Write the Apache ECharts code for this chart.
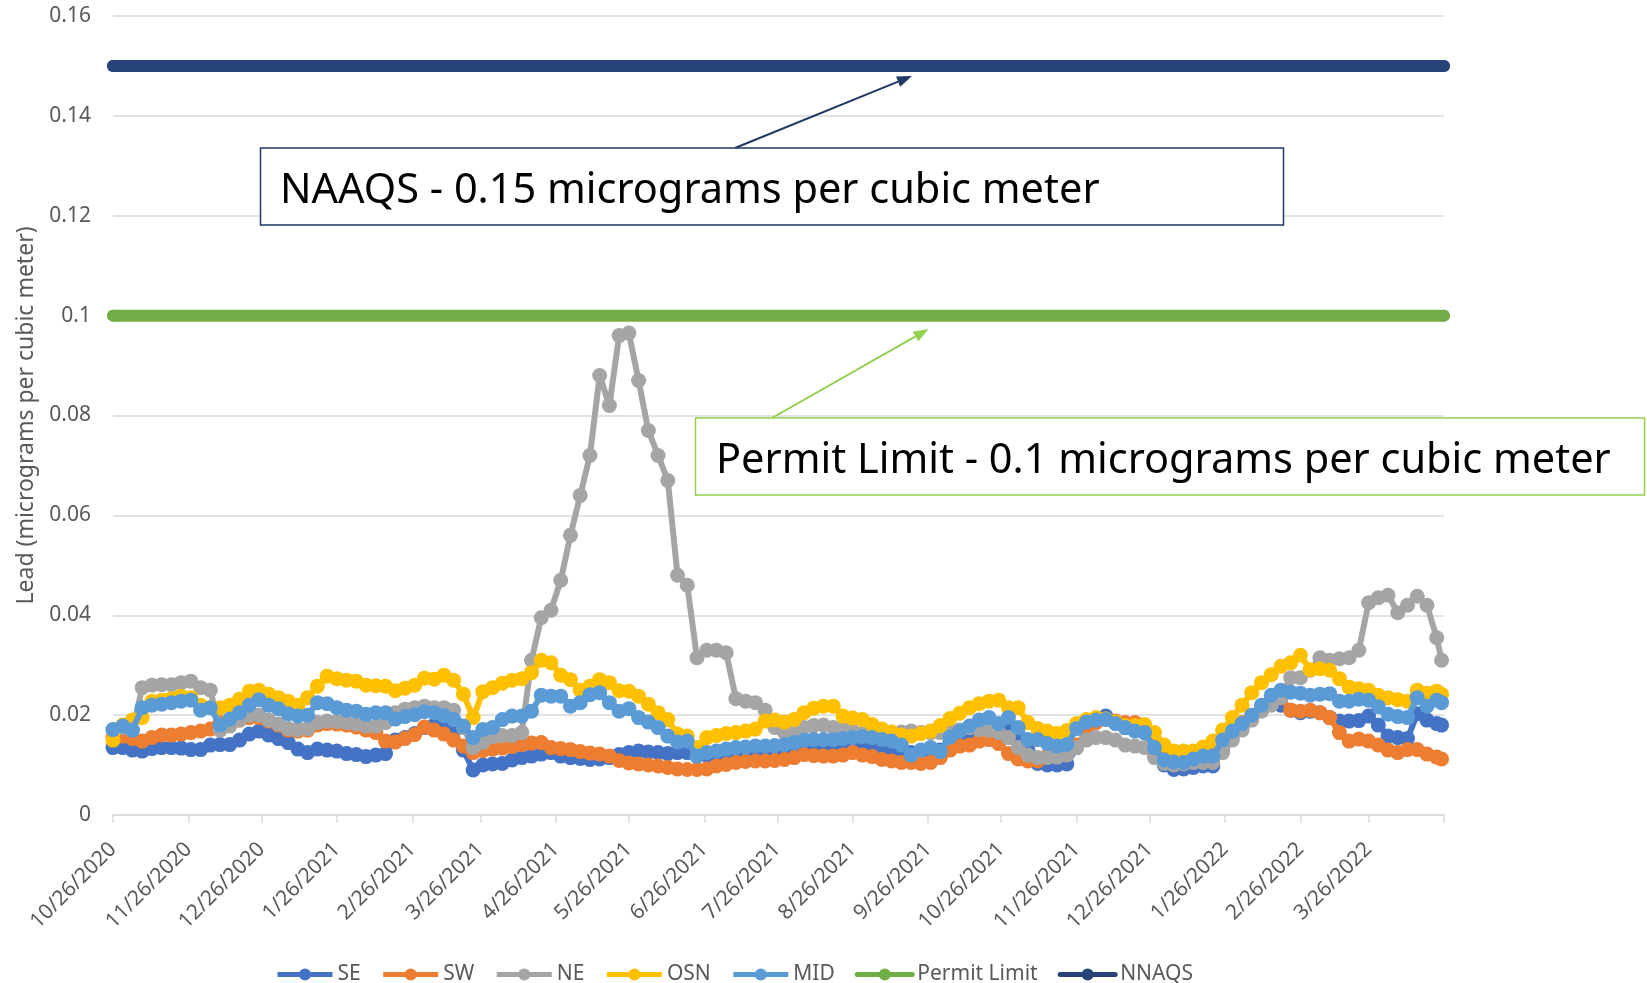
<!DOCTYPE html>
<html><head><meta charset="utf-8">
<script src="https://cdn.jsdelivr.net/npm/echarts@6/dist/echarts.min.js"></script>
<style>html,body{margin:0;padding:0;background:#fff}#c{width:1647px;height:983px}</style>
</head><body><div id="c"></div>
<script>
// Sample dates (every 4 days)
const dates = [
'2020-10-26','2020-10-30','2020-11-03','2020-11-07','2020-11-11','2020-11-15','2020-11-19','2020-11-23','2020-11-27','2020-12-01','2020-12-05','2020-12-09','2020-12-13','2020-12-17','2020-12-21','2020-12-25','2020-12-29','2021-01-02','2021-01-06','2021-01-10','2021-01-14','2021-01-18','2021-01-22','2021-01-26','2021-01-30','2021-02-03','2021-02-07',
'2021-02-11','2021-02-15','2021-02-19','2021-02-23','2021-02-27','2021-03-03','2021-03-07','2021-03-11','2021-03-15','2021-03-19','2021-03-23','2021-03-27','2021-03-31','2021-04-04','2021-04-08','2021-04-12','2021-04-16','2021-04-20','2021-04-24','2021-04-28','2021-05-02','2021-05-06','2021-05-10','2021-05-14','2021-05-18','2021-05-22','2021-05-26',
'2021-05-30','2021-06-03','2021-06-07','2021-06-11','2021-06-15','2021-06-19','2021-06-23','2021-06-27','2021-07-01','2021-07-05','2021-07-09','2021-07-13','2021-07-17','2021-07-21','2021-07-25','2021-07-29','2021-08-02','2021-08-06','2021-08-10','2021-08-14','2021-08-18','2021-08-22','2021-08-26','2021-08-30','2021-09-03','2021-09-07','2021-09-11',
'2021-09-15','2021-09-19','2021-09-23','2021-09-27','2021-10-01','2021-10-05','2021-10-09','2021-10-13','2021-10-17','2021-10-21','2021-10-25','2021-10-29','2021-11-02','2021-11-06','2021-11-10','2021-11-14','2021-11-18','2021-11-22','2021-11-26','2021-11-30','2021-12-04','2021-12-08','2021-12-12','2021-12-16','2021-12-20','2021-12-24','2021-12-28',
'2022-01-01','2022-01-05','2022-01-09','2022-01-13','2022-01-17','2022-01-21','2022-01-25','2022-01-29','2022-02-02','2022-02-06','2022-02-10','2022-02-14','2022-02-18','2022-02-22','2022-02-26','2022-03-02','2022-03-06','2022-03-10','2022-03-14','2022-03-18','2022-03-22','2022-03-26','2022-03-30','2022-04-03','2022-04-07','2022-04-11','2022-04-15','2022-04-19','2022-04-23','2022-04-25'
];
const tickDates = ['2020-10-26','2020-11-26','2020-12-26','2021-01-26','2021-02-26','2021-03-26','2021-04-26','2021-05-26','2021-06-26','2021-07-26','2021-08-26','2021-09-26','2021-10-26','2021-11-26','2021-12-26','2022-01-26','2022-02-26','2022-03-26','2022-04-26'];
const labelDates = tickDates.slice(0, 18);

const SE = [
0.0135,0.0135,0.0130,0.0128,0.0133,0.0135,0.0135,0.0134,0.0131,0.0131,0.0140,0.0141,0.0141,0.0150,0.0162,0.0168,0.0160,0.0153,0.0145,0.0132,0.0125,0.0132,0.0130,0.0128,0.0123,0.0121,0.0117,
0.0120,0.0123,0.0150,0.0155,0.0163,0.0175,0.0180,0.0178,0.0168,0.0130,0.0090,0.0100,0.0102,0.0103,0.0110,0.0115,0.0118,0.0122,0.0125,0.0118,0.0115,0.0113,0.0111,0.0112,0.0115,0.0121,0.0125,
0.0128,0.0126,0.0125,0.0123,0.0125,0.0125,0.0118,0.0120,0.0122,0.0125,0.0125,0.0126,0.0128,0.0128,0.0130,0.0130,0.0132,0.0135,0.0135,0.0135,0.0135,0.0138,0.0140,0.0140,0.0138,0.0135,0.0132,
0.0130,0.0125,0.0128,0.0130,0.0130,0.0145,0.0155,0.0165,0.0175,0.0180,0.0175,0.0175,0.0155,0.0130,0.0103,0.0100,0.0100,0.0102,0.0135,0.0165,0.0190,0.0198,0.0185,0.0175,0.0170,0.0165,0.0135,
0.0100,0.0091,0.0092,0.0095,0.0098,0.0098,0.0130,0.0158,0.0175,0.0195,0.0210,0.0225,0.0220,0.0210,0.0205,0.0208,0.0205,0.0195,0.0188,0.0188,0.0189,0.0198,0.0180,0.0158,0.0155,0.0153,0.0203,0.0190,0.0183,0.0180
];
const SW = [
0.0155,0.0158,0.0153,0.0148,0.0155,0.0160,0.0160,0.0162,0.0165,0.0168,0.0172,0.0185,0.0185,0.0190,0.0195,0.0195,0.0188,0.0180,0.0170,0.0168,0.0170,0.0180,0.0183,0.0182,0.0180,0.0176,0.0170,
0.0165,0.0148,0.0146,0.0153,0.0161,0.0176,0.0170,0.0162,0.0150,0.0138,0.0125,0.0129,0.0132,0.0134,0.0137,0.0141,0.0144,0.0145,0.0135,0.0133,0.0131,0.0127,0.0124,0.0122,0.0118,0.0109,0.0104,
0.0102,0.0100,0.0098,0.0095,0.0092,0.0091,0.0091,0.0092,0.0098,0.0101,0.0105,0.0107,0.0108,0.0108,0.0109,0.0111,0.0115,0.0121,0.0119,0.0118,0.0118,0.0120,0.0125,0.0120,0.0117,0.0111,0.0108,
0.0105,0.0105,0.0103,0.0105,0.0115,0.0130,0.0138,0.0140,0.0148,0.0151,0.0143,0.0123,0.0112,0.0108,0.0108,0.0118,0.0120,0.0125,0.0140,0.0165,0.0185,0.0192,0.0188,0.0185,0.0185,0.0175,0.0145,
0.0115,0.0110,0.0110,0.0115,0.0120,0.0120,0.0155,0.0175,0.0185,0.0200,0.0215,0.0230,0.0235,0.0210,0.0208,0.0210,0.0205,0.0195,0.0165,0.0148,0.0152,0.0148,0.0140,0.0130,0.0125,0.0131,0.0131,0.0122,0.0116,0.0112
];
const NE = [
0.0170,0.0175,0.0170,0.0255,0.0260,0.0261,0.0261,0.0265,0.0268,0.0255,0.0250,0.0170,0.0178,0.0190,0.0200,0.0200,0.0190,0.0182,0.0173,0.0171,0.0173,0.0185,0.0188,0.0187,0.0185,0.0182,0.0178,
0.0178,0.0185,0.0205,0.0212,0.0215,0.0218,0.0215,0.0215,0.0210,0.0175,0.0135,0.0145,0.0157,0.0159,0.0159,0.0165,0.0310,0.0395,0.0410,0.0470,0.0560,0.0640,0.0720,0.0880,0.0820,0.0960,0.0965,
0.0870,0.0770,0.0720,0.0670,0.0480,0.0460,0.0315,0.0330,0.0330,0.0325,0.0233,0.0228,0.0225,0.0210,0.0175,0.0165,0.0168,0.0175,0.0179,0.0180,0.0175,0.0172,0.0168,0.0163,0.0160,0.0158,0.0160,
0.0166,0.0168,0.0165,0.0165,0.0165,0.0170,0.0170,0.0175,0.0171,0.0170,0.0165,0.0155,0.0135,0.0120,0.0115,0.0115,0.0116,0.0120,0.0135,0.0150,0.0155,0.0155,0.0150,0.0140,0.0138,0.0135,0.0115,
0.0103,0.0100,0.0102,0.0105,0.0105,0.0105,0.0125,0.0150,0.0170,0.0190,0.0208,0.0220,0.0235,0.0275,0.0275,0.0290,0.0315,0.0310,0.0313,0.0315,0.0330,0.0425,0.0435,0.0440,0.0405,0.0420,0.0438,0.0420,0.0355,0.0310
];
const OSN = [
0.0150,0.0180,0.0190,0.0195,0.0228,0.0230,0.0233,0.0238,0.0235,0.0220,0.0215,0.0215,0.0220,0.0232,0.0248,0.0250,0.0242,0.0235,0.0228,0.0220,0.0235,0.0258,0.0278,0.0273,0.0270,0.0268,0.0260,
0.0259,0.0258,0.0249,0.0254,0.0260,0.0274,0.0272,0.0280,0.0270,0.0242,0.0195,0.0247,0.0255,0.0264,0.0270,0.0273,0.0285,0.0310,0.0305,0.0280,0.0271,0.0250,0.0258,0.0271,0.0265,0.0249,0.0248,
0.0238,0.0222,0.0205,0.0191,0.0162,0.0158,0.0135,0.0155,0.0159,0.0163,0.0165,0.0168,0.0172,0.0188,0.0190,0.0186,0.0191,0.0205,0.0214,0.0218,0.0218,0.0198,0.0194,0.0191,0.0181,0.0172,0.0166,
0.0160,0.0158,0.0163,0.0168,0.0179,0.0193,0.0204,0.0215,0.0223,0.0228,0.0230,0.0215,0.0215,0.0185,0.0173,0.0168,0.0163,0.0169,0.0183,0.0191,0.0195,0.0192,0.0186,0.0179,0.0179,0.0181,0.0165,
0.0140,0.0128,0.0128,0.0128,0.0136,0.0148,0.0170,0.0195,0.0220,0.0245,0.0265,0.0281,0.0298,0.0305,0.0320,0.0291,0.0293,0.0290,0.0273,0.0256,0.0253,0.0250,0.0240,0.0235,0.0231,0.0228,0.0250,0.0244,0.0248,0.0242
];
const MID = [
0.0171,0.0178,0.0170,0.0215,0.0220,0.0222,0.0225,0.0228,0.0230,0.0210,0.0215,0.0180,0.0192,0.0205,0.0220,0.0231,0.0220,0.0213,0.0203,0.0198,0.0200,0.0225,0.0223,0.0215,0.0210,0.0208,0.0202,
0.0205,0.0205,0.0192,0.0197,0.0201,0.0207,0.0205,0.0199,0.0191,0.0178,0.0155,0.0171,0.0175,0.0191,0.0198,0.0198,0.0208,0.0240,0.0238,0.0238,0.0218,0.0225,0.0241,0.0245,0.0225,0.0208,0.0213,
0.0195,0.0186,0.0175,0.0158,0.0146,0.0148,0.0118,0.0125,0.0128,0.0132,0.0135,0.0136,0.0138,0.0138,0.0139,0.0141,0.0145,0.0150,0.0151,0.0151,0.0151,0.0153,0.0155,0.0157,0.0155,0.0151,0.0148,
0.0140,0.0120,0.0130,0.0135,0.0127,0.0156,0.0168,0.0178,0.0190,0.0195,0.0183,0.0195,0.0175,0.0151,0.0151,0.0143,0.0138,0.0141,0.0173,0.0186,0.0190,0.0191,0.0183,0.0175,0.0168,0.0165,0.0135,
0.0110,0.0106,0.0105,0.0112,0.0118,0.0118,0.0150,0.0168,0.0183,0.0200,0.0220,0.0240,0.0250,0.0246,0.0244,0.0240,0.0242,0.0243,0.0228,0.0228,0.0232,0.0230,0.0217,0.0202,0.0197,0.0195,0.0235,0.0218,0.0230,0.0225
];
const permitLimit = 0.1;
const naaqs = 0.15;
const seriesNames = ['SE','SW','NE','OSN','MID','Permit Limit','NNAQS'];
const colors = ['#4472C4','#ED7D31','#A5A5A5','#FFC000','#5B9BD5','#70AD47','#264478'];

function toTime(s){const p=s.split('-').map(Number);return Date.UTC(p[0],p[1]-1,p[2]);}
const T = dates.map(toTime);
const pairs = v => v.map((y,i)=>[T[i], y]);
const FONT = 'Noto Sans';

const chart = echarts.init(document.getElementById('c'), null, {renderer:'canvas'});
const siteSeries = [SE, SW, NE, OSN, MID].map((vals, i) => ({
  name: seriesNames[i], type: 'line', data: pairs(vals),
  symbol: 'circle', symbolSize: 15, showSymbol: true, showAllSymbol: true,
  lineStyle: {width: 6, color: colors[i], join: 'round'},
  itemStyle: {color: colors[i]},
  emphasis: {disabled: true}, z: 2 + i
}));
const limitSeries = [[permitLimit, 5], [naaqs, 6]].map(([v, i]) => ({
  name: seriesNames[i], type: 'line',
  data: [[toTime(tickDates[0]), v], [toTime(tickDates[tickDates.length-1]), v]],
  symbol: 'circle', symbolSize: 12,
  lineStyle: {width: 12, color: colors[i], cap: 'round'},
  itemStyle: {color: colors[i]},
  emphasis: {disabled: true}, z: 8 + i
}));

function fmtDate(v){const d=new Date(v);return (d.getUTCMonth()+1)+'/'+d.getUTCDate()+'/'+d.getUTCFullYear();}

chart.setOption({
  animation: false,
  backgroundColor: '#fff',
  textStyle: {fontFamily: FONT},
  grid: {left: 113, right: 203, top: 16, bottom: 168},
  xAxis: {
    type: 'value', min: toTime(tickDates[0]), max: toTime(tickDates[tickDates.length-1]),
    splitLine: {show: false},
    axisLine: {lineStyle: {color: '#D9D9D9', width: 1.5}},
    axisTick: {show: true, length: 8, lineStyle: {color: '#D9D9D9', width: 1.5}, customValues: tickDates.map(toTime)},
    axisLabel: {rotate: 45, margin: 31, color: '#595959', fontSize: 21, fontFamily: FONT,
      customValues: labelDates.map(toTime), formatter: fmtDate, hideOverlap: false}
  },
  yAxis: {
    type: 'value', min: 0, max: 0.16, interval: 0.02,
    name: 'Lead (micrograms per cubic meter)', nameLocation: 'middle', nameGap: 72,
    nameTextStyle: {color: '#595959', fontSize: 23, fontFamily: FONT},
    axisLine: {show: false}, axisTick: {show: false},
    axisLabel: {color: '#595959', fontSize: 21, margin: 22, fontFamily: FONT,
      formatter: v => String(+v.toFixed(2))},
    splitLine: {lineStyle: {color: '#D9D9D9', width: 1.5}}
  },
  legend: {
    data: seriesNames, left: 270, top: 959, itemGap: 20, itemWidth: 55, itemHeight: 15,
    textStyle: {color: '#595959', fontSize: 21, fontFamily: FONT},
    lineStyle: {width: 5}
  },
  series: siteSeries.concat(limitSeries)
});

function arrow(x1, y1, x2, y2, color) {
  const dx = x2 - x1, dy = y2 - y1, L = Math.hypot(dx, dy);
  const ux = dx / L, uy = dy / L, hl = 15, hw = 11;
  const bx = x2 - ux * hl, by = y2 - uy * hl, px = -uy, py = ux;
  return [
    {type: 'line', shape: {x1, y1, x2: bx, y2: by}, style: {stroke: color, lineWidth: 2}, z: 100},
    {type: 'polygon', shape: {points: [[x2, y2], [bx + px * hw / 2, by + py * hw / 2], [bx - px * hw / 2, by - py * hw / 2]]}, style: {fill: color}, z: 100}
  ];
}
function box(x, y, w, h, color, text, tx) {
  return [
    {type: 'rect', shape: {x, y, width: w, height: h}, style: {fill: '#fff', stroke: color, lineWidth: 1.5}, z: 100},
    {type: 'text', x: tx, y: y + h / 2 + 5, style: {text, fill: '#000', font: '41.5px "Noto Sans"', verticalAlign: 'middle'}, z: 101}
  ];
}
chart.setOption({
  graphic: [].concat(
    arrow(735, 148, 912, 76, '#203864'),
    box(260.5, 148, 1023, 77, '#203864', 'NAAQS - 0.15 micrograms per cubic meter', 280),
    arrow(772, 418, 928.6, 329, '#92D050'),
    box(695.5, 418, 949, 77, '#92D050', 'Permit Limit - 0.1 micrograms per cubic meter', 716)
  )
});
</script>
</body></html>
